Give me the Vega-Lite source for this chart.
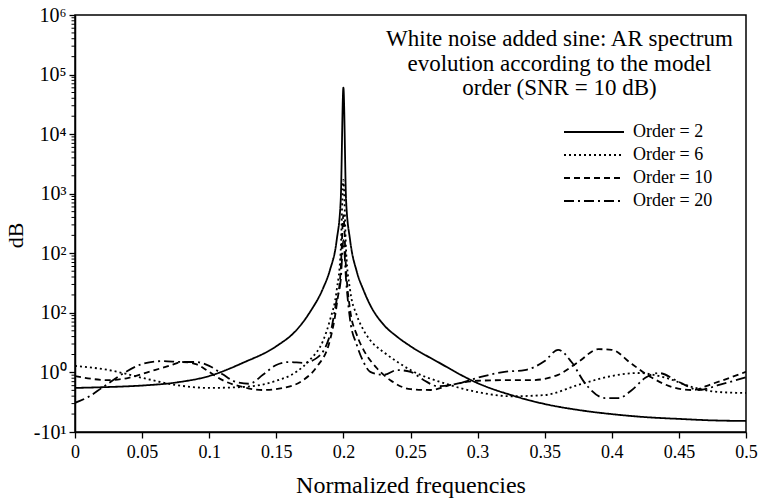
{
  "$schema": "https://vega.github.io/schema/vega-lite/v6.json",
  "width": 671,
  "height": 417,
  "autosize": {"type": "none"},
  "padding": {"left": 75, "top": 15, "right": 17, "bottom": 68},
  "background": "white",
  "config": {
    "view": {"stroke": "black", "strokeWidth": 1.5},
    "font": "Liberation Serif",
    "axis": {
      "domainColor": "black",
      "labelColor": "black",
      "titleColor": "black",
      "tickColor": "black",
      "labelFont": "Liberation Serif",
      "titleFont": "Liberation Serif",
      "titleFontWeight": "normal",
      "grid": false
    },
    "legend": {
      "labelFont": "Liberation Serif",
      "labelColor": "black"
    }
  },
  "datasets": {
    "yminor": [
      {"t": -0.699}, {"t": -0.523}, {"t": -0.398}, {"t": -0.301}, {"t": -0.222}, {"t": -0.155}, {"t": -0.097}, {"t": -0.046},
      {"t": 0.301}, {"t": 0.477}, {"t": 0.602}, {"t": 0.699}, {"t": 0.778}, {"t": 0.845}, {"t": 0.903}, {"t": 0.954},
      {"t": 1.301}, {"t": 1.477}, {"t": 1.602}, {"t": 1.699}, {"t": 1.778}, {"t": 1.845}, {"t": 1.903}, {"t": 1.954},
      {"t": 2.301}, {"t": 2.477}, {"t": 2.602}, {"t": 2.699}, {"t": 2.778}, {"t": 2.845}, {"t": 2.903}, {"t": 2.954},
      {"t": 3.301}, {"t": 3.477}, {"t": 3.602}, {"t": 3.699}, {"t": 3.778}, {"t": 3.845}, {"t": 3.903}, {"t": 3.954},
      {"t": 4.301}, {"t": 4.477}, {"t": 4.602}, {"t": 4.699}, {"t": 4.778}, {"t": 4.845}, {"t": 4.903}, {"t": 4.954},
      {"t": 5.301}, {"t": 5.477}, {"t": 5.602}, {"t": 5.699}, {"t": 5.778}, {"t": 5.845}, {"t": 5.903}, {"t": 5.954}
    ],
    "spec": [
      {"f": 0, "v": -0.26, "s": "Order = 2"},
      {"f": 0.025, "v": -0.245, "s": "Order = 2"},
      {"f": 0.05, "v": -0.22, "s": "Order = 2"},
      {"f": 0.075, "v": -0.17, "s": "Order = 2"},
      {"f": 0.1, "v": -0.06, "s": "Order = 2"},
      {"f": 0.125, "v": 0.16, "s": "Order = 2"},
      {"f": 0.15, "v": 0.44, "s": "Order = 2"},
      {"f": 0.165, "v": 0.71, "s": "Order = 2"},
      {"f": 0.175, "v": 1.01, "s": "Order = 2"},
      {"f": 0.185, "v": 1.42, "s": "Order = 2"},
      {"f": 0.19, "v": 1.72, "s": "Order = 2"},
      {"f": 0.195, "v": 2.22, "s": "Order = 2"},
      {"f": 0.198, "v": 2.89, "s": "Order = 2"},
      {"f": 0.2, "v": 4.78, "s": "Order = 2"},
      {"f": 0.202, "v": 2.89, "s": "Order = 2"},
      {"f": 0.205, "v": 2.22, "s": "Order = 2"},
      {"f": 0.21, "v": 1.69, "s": "Order = 2"},
      {"f": 0.215, "v": 1.38, "s": "Order = 2"},
      {"f": 0.22, "v": 1.13, "s": "Order = 2"},
      {"f": 0.23, "v": 0.8, "s": "Order = 2"},
      {"f": 0.24, "v": 0.6, "s": "Order = 2"},
      {"f": 0.25, "v": 0.44, "s": "Order = 2"},
      {"f": 0.27, "v": 0.18, "s": "Order = 2"},
      {"f": 0.3, "v": -0.18, "s": "Order = 2"},
      {"f": 0.325, "v": -0.38, "s": "Order = 2"},
      {"f": 0.35, "v": -0.53, "s": "Order = 2"},
      {"f": 0.375, "v": -0.63, "s": "Order = 2"},
      {"f": 0.4, "v": -0.7, "s": "Order = 2"},
      {"f": 0.425, "v": -0.75, "s": "Order = 2"},
      {"f": 0.45, "v": -0.78, "s": "Order = 2"},
      {"f": 0.475, "v": -0.805, "s": "Order = 2"},
      {"f": 0.5, "v": -0.815, "s": "Order = 2"},

      {"f": 0, "v": 0.11, "s": "Order = 6"},
      {"f": 0.025, "v": 0.04, "s": "Order = 6"},
      {"f": 0.05, "v": -0.09, "s": "Order = 6"},
      {"f": 0.075, "v": -0.21, "s": "Order = 6"},
      {"f": 0.1, "v": -0.26, "s": "Order = 6"},
      {"f": 0.125, "v": -0.245, "s": "Order = 6"},
      {"f": 0.15, "v": -0.14, "s": "Order = 6"},
      {"f": 0.165, "v": 0.01, "s": "Order = 6"},
      {"f": 0.175, "v": 0.21, "s": "Order = 6"},
      {"f": 0.185, "v": 0.54, "s": "Order = 6"},
      {"f": 0.19, "v": 0.88, "s": "Order = 6"},
      {"f": 0.195, "v": 1.38, "s": "Order = 6"},
      {"f": 0.198, "v": 2.05, "s": "Order = 6"},
      {"f": 0.2, "v": 3.23, "s": "Order = 6"},
      {"f": 0.202, "v": 2.05, "s": "Order = 6"},
      {"f": 0.205, "v": 1.38, "s": "Order = 6"},
      {"f": 0.21, "v": 0.96, "s": "Order = 6"},
      {"f": 0.215, "v": 0.71, "s": "Order = 6"},
      {"f": 0.22, "v": 0.54, "s": "Order = 6"},
      {"f": 0.23, "v": 0.34, "s": "Order = 6"},
      {"f": 0.24, "v": 0.18, "s": "Order = 6"},
      {"f": 0.25, "v": 0.04, "s": "Order = 6"},
      {"f": 0.275, "v": -0.18, "s": "Order = 6"},
      {"f": 0.3, "v": -0.33, "s": "Order = 6"},
      {"f": 0.325, "v": -0.4, "s": "Order = 6"},
      {"f": 0.35, "v": -0.38, "s": "Order = 6"},
      {"f": 0.375, "v": -0.21, "s": "Order = 6"},
      {"f": 0.4, "v": -0.06, "s": "Order = 6"},
      {"f": 0.42, "v": -0.01, "s": "Order = 6"},
      {"f": 0.44, "v": -0.09, "s": "Order = 6"},
      {"f": 0.46, "v": -0.245, "s": "Order = 6"},
      {"f": 0.48, "v": -0.33, "s": "Order = 6"},
      {"f": 0.5, "v": -0.345, "s": "Order = 6"},

      {"f": 0, "v": -0.06, "s": "Order = 10"},
      {"f": 0.025, "v": -0.13, "s": "Order = 10"},
      {"f": 0.04, "v": -0.09, "s": "Order = 10"},
      {"f": 0.055, "v": 0.01, "s": "Order = 10"},
      {"f": 0.07, "v": 0.11, "s": "Order = 10"},
      {"f": 0.08, "v": 0.175, "s": "Order = 10"},
      {"f": 0.09, "v": 0.14, "s": "Order = 10"},
      {"f": 0.1, "v": 0.01, "s": "Order = 10"},
      {"f": 0.11, "v": -0.13, "s": "Order = 10"},
      {"f": 0.125, "v": -0.245, "s": "Order = 10"},
      {"f": 0.14, "v": -0.295, "s": "Order = 10"},
      {"f": 0.155, "v": -0.26, "s": "Order = 10"},
      {"f": 0.17, "v": -0.13, "s": "Order = 10"},
      {"f": 0.18, "v": 0.09, "s": "Order = 10"},
      {"f": 0.19, "v": 0.54, "s": "Order = 10"},
      {"f": 0.195, "v": 1.13, "s": "Order = 10"},
      {"f": 0.198, "v": 1.72, "s": "Order = 10"},
      {"f": 0.2, "v": 2.64, "s": "Order = 10"},
      {"f": 0.202, "v": 1.72, "s": "Order = 10"},
      {"f": 0.205, "v": 1.05, "s": "Order = 10"},
      {"f": 0.21, "v": 0.63, "s": "Order = 10"},
      {"f": 0.215, "v": 0.38, "s": "Order = 10"},
      {"f": 0.225, "v": 0.07, "s": "Order = 10"},
      {"f": 0.235, "v": -0.13, "s": "Order = 10"},
      {"f": 0.25, "v": -0.28, "s": "Order = 10"},
      {"f": 0.265, "v": -0.295, "s": "Order = 10"},
      {"f": 0.28, "v": -0.21, "s": "Order = 10"},
      {"f": 0.3, "v": -0.14, "s": "Order = 10"},
      {"f": 0.32, "v": -0.13, "s": "Order = 10"},
      {"f": 0.34, "v": -0.13, "s": "Order = 10"},
      {"f": 0.36, "v": -0.04, "s": "Order = 10"},
      {"f": 0.375, "v": 0.175, "s": "Order = 10"},
      {"f": 0.39, "v": 0.39, "s": "Order = 10"},
      {"f": 0.4, "v": 0.38, "s": "Order = 10"},
      {"f": 0.415, "v": 0.14, "s": "Order = 10"},
      {"f": 0.43, "v": -0.09, "s": "Order = 10"},
      {"f": 0.445, "v": -0.245, "s": "Order = 10"},
      {"f": 0.46, "v": -0.295, "s": "Order = 10"},
      {"f": 0.475, "v": -0.19, "s": "Order = 10"},
      {"f": 0.5, "v": 0.01, "s": "Order = 10"},

      {"f": 0, "v": -0.51, "s": "Order = 20"},
      {"f": 0.01, "v": -0.41, "s": "Order = 20"},
      {"f": 0.02, "v": -0.26, "s": "Order = 20"},
      {"f": 0.035, "v": -0.03, "s": "Order = 20"},
      {"f": 0.05, "v": 0.14, "s": "Order = 20"},
      {"f": 0.065, "v": 0.19, "s": "Order = 20"},
      {"f": 0.08, "v": 0.175, "s": "Order = 20"},
      {"f": 0.09, "v": 0.175, "s": "Order = 20"},
      {"f": 0.1, "v": 0.11, "s": "Order = 20"},
      {"f": 0.11, "v": -0.03, "s": "Order = 20"},
      {"f": 0.12, "v": -0.16, "s": "Order = 20"},
      {"f": 0.13, "v": -0.19, "s": "Order = 20"},
      {"f": 0.14, "v": -0.04, "s": "Order = 20"},
      {"f": 0.15, "v": 0.125, "s": "Order = 20"},
      {"f": 0.16, "v": 0.175, "s": "Order = 20"},
      {"f": 0.17, "v": 0.16, "s": "Order = 20"},
      {"f": 0.18, "v": 0.24, "s": "Order = 20"},
      {"f": 0.19, "v": 0.63, "s": "Order = 20"},
      {"f": 0.195, "v": 1.22, "s": "Order = 20"},
      {"f": 0.198, "v": 1.55, "s": "Order = 20"},
      {"f": 0.2, "v": 2.22, "s": "Order = 20"},
      {"f": 0.202, "v": 1.55, "s": "Order = 20"},
      {"f": 0.205, "v": 0.88, "s": "Order = 20"},
      {"f": 0.21, "v": 0.46, "s": "Order = 20"},
      {"f": 0.215, "v": 0.175, "s": "Order = 20"},
      {"f": 0.22, "v": 0.01, "s": "Order = 20"},
      {"f": 0.23, "v": -0.04, "s": "Order = 20"},
      {"f": 0.24, "v": 0.04, "s": "Order = 20"},
      {"f": 0.25, "v": 0.01, "s": "Order = 20"},
      {"f": 0.26, "v": -0.13, "s": "Order = 20"},
      {"f": 0.27, "v": -0.23, "s": "Order = 20"},
      {"f": 0.285, "v": -0.19, "s": "Order = 20"},
      {"f": 0.3, "v": -0.09, "s": "Order = 20"},
      {"f": 0.32, "v": 0.01, "s": "Order = 20"},
      {"f": 0.335, "v": 0.04, "s": "Order = 20"},
      {"f": 0.35, "v": 0.19, "s": "Order = 20"},
      {"f": 0.36, "v": 0.38, "s": "Order = 20"},
      {"f": 0.37, "v": 0.175, "s": "Order = 20"},
      {"f": 0.38, "v": -0.18, "s": "Order = 20"},
      {"f": 0.395, "v": -0.43, "s": "Order = 20"},
      {"f": 0.405, "v": -0.43, "s": "Order = 20"},
      {"f": 0.415, "v": -0.295, "s": "Order = 20"},
      {"f": 0.425, "v": -0.09, "s": "Order = 20"},
      {"f": 0.435, "v": -0.01, "s": "Order = 20"},
      {"f": 0.45, "v": -0.16, "s": "Order = 20"},
      {"f": 0.465, "v": -0.295, "s": "Order = 20"},
      {"f": 0.48, "v": -0.21, "s": "Order = 20"},
      {"f": 0.5, "v": -0.08, "s": "Order = 20"}
    ]
  },
  "layer": [
    {
      "data": {"name": "spec"},
      "mark": {"type": "line", "interpolate": "monotone", "color": "black", "strokeWidth": 1.8, "clip": true},
      "encoding": {
        "x": {
          "field": "f", "type": "quantitative",
          "scale": {"domain": [0, 0.5], "nice": false, "zero": false},
          "axis": {
            "title": "Normalized frequencies",
            "titleFontSize": 24,
            "titlePadding": 12,
            "values": [0, 0.05, 0.1, 0.15, 0.2, 0.25, 0.3, 0.35, 0.4, 0.45, 0.5],
            "format": "~g",
            "labelFontSize": 18,
            "labelPadding": 5,
            "ticks": true,
            "tickSize": 6,
            "tickWidth": 1.3,
            "domainWidth": 1.5,
            "labelFlush": false,
            "labelOverlap": false
          }
        },
        "y": {
          "field": "v", "type": "quantitative",
          "scale": {"domain": [-1, 6], "nice": false, "zero": false},
          "axis": {
            "title": "dB",
            "titleFontSize": 22,
            "titlePadding": 6,
            "titleY": 220,
            "values": [-1, 0, 1, 2, 3, 4, 5, 6],
            "labelExpr": "['-10¹','10⁰','10²','10²','10³','10⁴','10⁵','10⁶'][round(datum.value) + 1]",
            "labelFontSize": 20,
            "labelPadding": 3,
            "labelOverlap": false,
            "labelFlush": false,
            "ticks": true,
            "tickSize": 6,
            "tickWidth": 1.3,
            "domainWidth": 1.5
          }
        },
        "strokeDash": {
          "field": "s", "type": "nominal",
          "scale": {
            "domain": ["Order = 2", "Order = 6", "Order = 10", "Order = 20"],
            "range": [[1, 0], [2, 3], [6, 4], [10, 4, 2, 4]]
          },
          "legend": {
            "title": null,
            "orient": "none",
            "legendX": 508,
            "legendY": 106,
            "symbolType": "M-3,0H3",
            "symbolSize": 400,
            "symbolStrokeWidth": 1.8,
            "symbolStrokeColor": "black",
            "symbolFillColor": "transparent",
            "labelFontSize": 18,
            "labelOffset": 28,
            "rowPadding": 3
          }
        }
      }
    },
    {
      "data": {"name": "yminor"},
      "mark": {"type": "tick", "orient": "horizontal", "color": "black", "size": 3.5, "thickness": 1, "xOffset": -1.75, "opacity": 1, "clip": false},
      "encoding": {
        "x": {"datum": 0, "type": "quantitative"},
        "y": {"field": "t", "type": "quantitative"}
      }
    },
    {
      "data": {"values": [{}]},
      "mark": {"type": "text", "font": "Liberation Serif", "fontSize": 23, "align": "center", "baseline": "top", "lineHeight": 24.5, "color": "black"},
      "encoding": {
        "x": {"datum": 0.361, "type": "quantitative"},
        "y": {"datum": 5.78, "type": "quantitative"},
        "text": {"value": ["White noise added sine: AR spectrum", "evolution according to the model", "order (SNR = 10 dB)"]}
      }
    }
  ]
}
